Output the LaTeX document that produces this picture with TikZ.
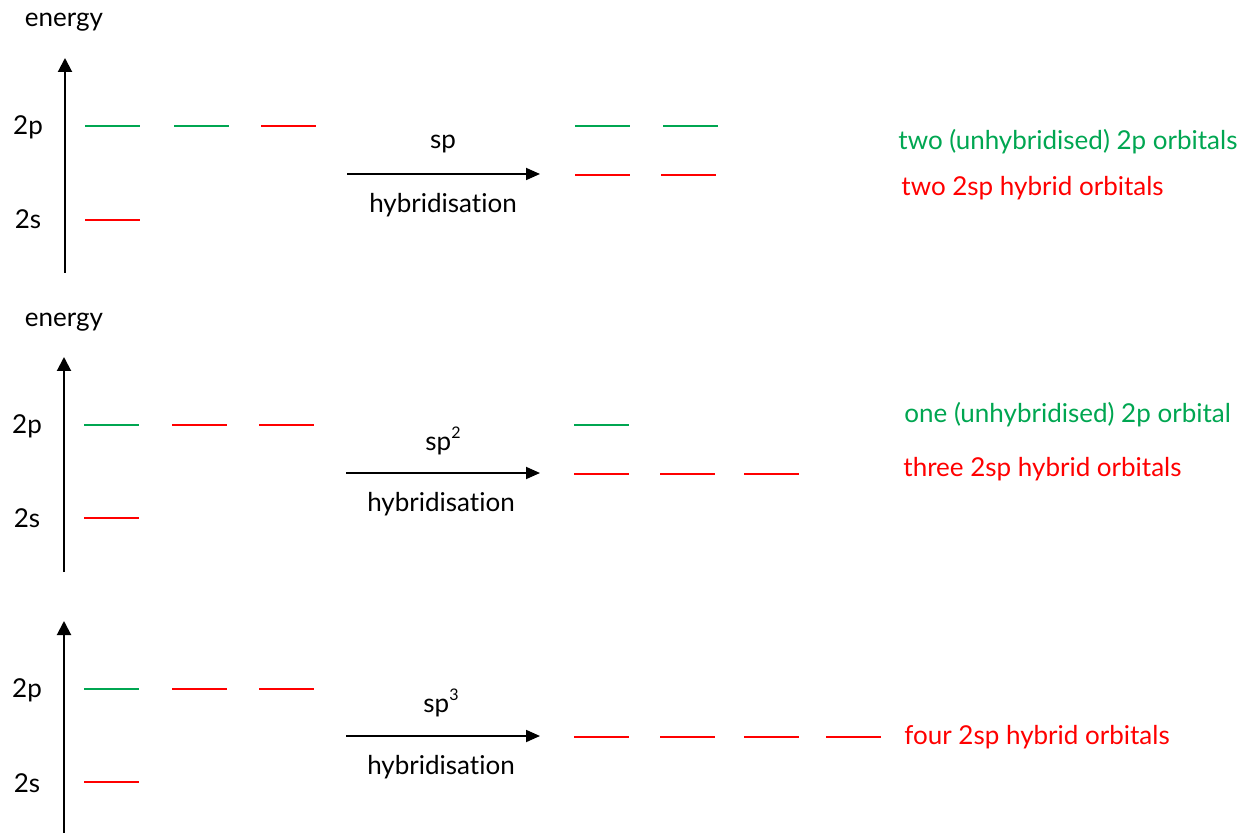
\documentclass[tikz,border=0pt]{standalone}
\usepackage{fontspec}
\setmainfont{Lato}[Ligatures={NoCommon,NoRare}]
\usetikzlibrary{arrows.meta}
\definecolor{orbgreen}{RGB}{0,166,81}
\definecolor{orbred}{RGB}{255,0,0}
\newcommand{\smallsup}[1]{\raisebox{0.85ex}{\fontsize{8}{8}\selectfont #1}}
\begin{document}
\begin{tikzpicture}[x=0.5pt,y=-0.5pt,
  lbl/.style={inner sep=0pt,font=\fontsize{13}{15}\selectfont},
  glbl/.style={lbl,text=orbgreen,anchor=west},
  rlbl/.style={lbl,text=orbred,anchor=west},
  gorb/.style={draw=orbgreen,line width=1pt},
  rorb/.style={draw=orbred,line width=1pt},
  axis/.style={line width=1pt,-{Triangle[length=7pt,width=7pt]}},
  harrow/.style={line width=0.9pt,-{Triangle[length=7pt,width=6pt]}}]
\useasboundingbox (0,0) rectangle (1245,833);
% ---------- panel 1 ----------
\node[lbl] (e1) at (64,22) {energy};
\coordinate (a1b) at (65,273);
\coordinate (a1t) at (65,58);
\draw[axis] (a1b) -- (a1t);
\node[lbl] (p1) at (28,127) {2p};
\node[lbl] (s1) at (28,219) {2s};
\draw[gorb] (85,126) -- (140,126);
\draw[gorb] (174,126) -- (229,126);
\draw[rorb] (261,126) -- (316,126);
\draw[rorb] (85,220) -- (140,220);
\coordinate (h1a) at (347,174);
\coordinate (h1b) at (540,174);
\draw[harrow] (h1a) -- (h1b);
\node[lbl] (t1) at (443,144) {sp};
\node[lbl] (b1) at (443,205) {hybridisation};
\draw[gorb] (575,126) -- (630,126);
\draw[gorb] (663,126) -- (718,126);
\draw[rorb] (575,175) -- (630,175);
\draw[rorb] (661,175) -- (716,175);
\node[glbl] (g1) at (898,142) {two (unhybridised) 2p orbitals};
\node[rlbl] (r1) at (901,188) {two 2sp hybrid orbitals};
% ---------- panel 2 ----------
\node[lbl] (e2) at (64,322) {energy};
\coordinate (a2b) at (64,572);
\coordinate (a2t) at (64,357);
\draw[axis] (a2b) -- (a2t);
\node[lbl] (p2) at (27,426) {2p};
\node[lbl] (s2) at (27,518) {2s};
\draw[gorb] (84,425) -- (139,425);
\draw[rorb] (172,425) -- (227,425);
\draw[rorb] (259,425) -- (314,425);
\draw[rorb] (84,518) -- (139,518);
\coordinate (h2a) at (346,473);
\coordinate (h2b) at (540,473);
\draw[harrow] (h2a) -- (h2b);
\node[lbl] (t2) at (443,441) {sp\smallsup{2}};
\node[lbl] (b2) at (441,504) {hybridisation};
\draw[gorb] (574,425) -- (629,425);
\draw[rorb] (574,474) -- (629,474);
\draw[rorb] (660,474) -- (715,474);
\draw[rorb] (744,474) -- (799,474);
\node[glbl] (g2) at (904,415) {one (unhybridised) 2p orbital};
\node[rlbl] (r2) at (903,469) {three 2sp hybrid orbitals};
% ---------- panel 3 ----------
\coordinate (a3b) at (64,833);
\coordinate (a3t) at (64,621);
\draw[axis] (a3b) -- (a3t);
\node[lbl] (p3) at (27,690) {2p};
\node[lbl] (s3) at (27,783) {2s};
\draw[gorb] (84,689) -- (139,689);
\draw[rorb] (172,689) -- (227,689);
\draw[rorb] (259,689) -- (314,689);
\draw[rorb] (84,782) -- (139,782);
\coordinate (h3a) at (346,736);
\coordinate (h3b) at (540,736);
\draw[harrow] (h3a) -- (h3b);
\node[lbl] (t3) at (441,703) {sp\smallsup{3}};
\node[lbl] (b3) at (441,767) {hybridisation};
\draw[rorb] (574,737) -- (629,737);
\draw[rorb] (660,737) -- (715,737);
\draw[rorb] (744,737) -- (799,737);
\draw[rorb] (826,737) -- (881,737);
\node[rlbl] (r3) at (904,737) {four 2sp hybrid orbitals};
\end{tikzpicture}
\end{document}
